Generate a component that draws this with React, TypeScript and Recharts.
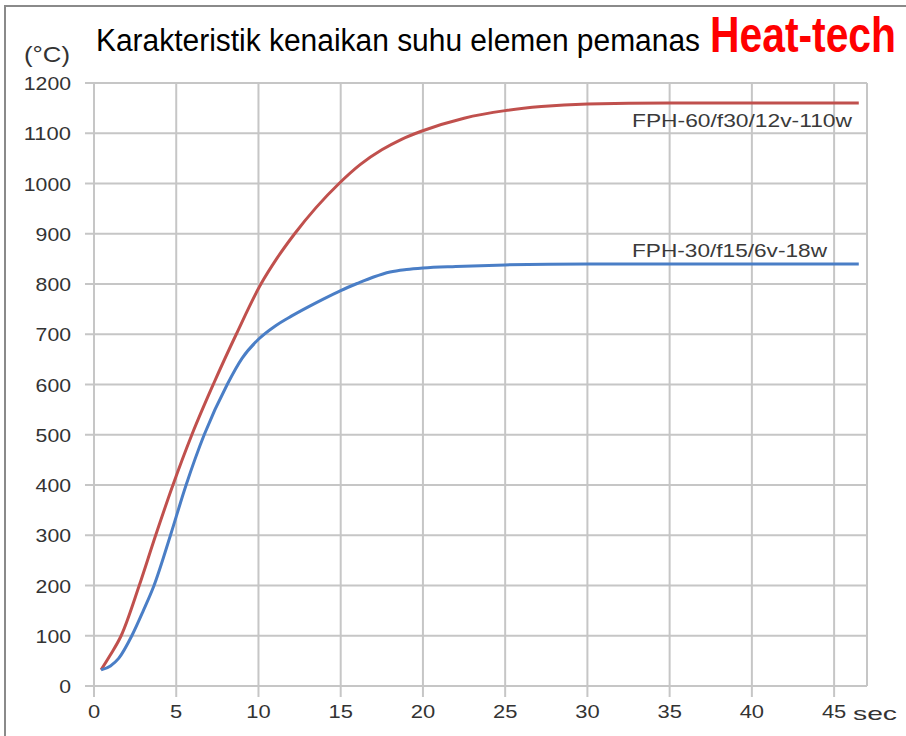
import React from "react";
import { LineChart, Line, XAxis, YAxis, CartesianGrid } from "recharts";

// FPH-60/f30/12v-110w (red)
const redTime = [0.43, 1.0, 1.65, 2.75, 3.75, 4.8, 5.95, 7.25, 8.65, 10.15, 11.1, 12.2, 13.5, 14.9, 16.2, 17.5, 18.7, 19.9, 22.5, 25, 27.2, 30, 35, 46.5];
const redTemp = [32, 62, 100, 200, 300, 400, 500, 600, 700, 800, 850, 900, 952, 1000, 1038, 1067, 1088, 1104, 1130, 1145, 1153, 1158, 1160, 1160];

// FPH-30/f15/6v-18w (blue)
const blueTime = [0.43, 1.0, 1.5, 2.3, 3.0, 3.65, 4.65, 5.6, 6.7, 8.1, 9.0, 10.0, 11.0, 12.0, 13.0, 14.0, 15.0, 16.0, 17.0, 18.0, 19.0, 20, 22, 25, 30, 46.5];
const blueTemp = [32, 40, 55, 100, 150, 200, 300, 400, 500, 600, 652, 690, 716, 736, 754, 771, 787, 801, 814, 824, 829, 832, 835, 838, 840, 840];

const xTicks = [0, 5, 10, 15, 20, 25, 30, 35, 40, 45];
const yTicks = [0, 100, 200, 300, 400, 500, 600, 700, 800, 900, 1000, 1100, 1200];

const title = "Karakteristik kenaikan suhu elemen pemanas";
const brand = "Heat-tech";
const unitLabel = "(°C)";
const xUnit = "sec";
const redName = "FPH-60/f30/12v-110w";
const blueName = "FPH-30/f15/6v-18w";

const redData = redTime.map((t, i) => ({ t, v: redTemp[i] }));
const blueData = blueTime.map((t, i) => ({ t, v: blueTemp[i] }));

const FONT = "'Liberation Sans', Arial, sans-serif";
const GRID = "#c6c6c6";

const YTick = (props: any) => {
  const { x, y, payload } = props;
  const s = String(payload.value);
  return (
    <text x={x} y={y} dy={7} textAnchor="end" fill="#333" fontSize={19} fontFamily={FONT}
      textLength={s.length * 11.8} lengthAdjust="spacingAndGlyphs">{s}</text>
  );
};

const XTick = (props: any) => {
  const { x, y, payload } = props;
  const s = String(payload.value);
  return (
    <text x={x} y={y} dy={21} textAnchor="middle" fill="#333" fontSize={19} fontFamily={FONT}
      textLength={s.length * 12.2} lengthAdjust="spacingAndGlyphs">{s}</text>
  );
};

export default function App() {
  return (
    <div style={{ position: "absolute", left: 0, top: 0, width: 906, height: 736, background: "#fff", overflow: "hidden" }}>
      <LineChart width={906} height={736} margin={{ top: 83, right: 39, bottom: 0, left: 0 }}>
        <CartesianGrid stroke={GRID} strokeWidth={2} />
        <XAxis type="number" dataKey="t" domain={[0, 47]} ticks={xTicks} allowDataOverflow
          axisLine={false} tickLine={{ stroke: GRID, strokeWidth: 2 }} tickSize={11} tickMargin={0}
          height={50} tick={<XTick />} interval={0} />
        <YAxis type="number" domain={[0, 1200]} ticks={yTicks} width={94}
          axisLine={false} tickLine={{ stroke: GRID, strokeWidth: 2 }} tickSize={9} tickMargin={14}
          tick={<YTick />} interval={0} />
        <Line data={redData} dataKey="v" type="monotone" stroke="#c0504d" strokeWidth={3} dot={false} isAnimationActive={false} />
        <Line data={blueData} dataKey="v" type="monotone" stroke="#4a7ec6" strokeWidth={3} dot={false} isAnimationActive={false} />
      </LineChart>
      <svg width={906} height={736} style={{ position: "absolute", left: 0, top: 0, pointerEvents: "none" }}>
        <rect x={5} y={6} width={920} height={760} fill="none" stroke="#8a8a8a" strokeWidth={2} />
        <text x={96} y={51} fontSize={31} fontFamily={FONT} fill="#000" textLength={604} lengthAdjust="spacingAndGlyphs">{title}</text>
        <g transform="translate(710,52) scale(1,1.17)">
          <text x={0} y={0} fontSize={42} fontWeight="bold" fontFamily={FONT} fill="#ff0000" textLength={186} lengthAdjust="spacingAndGlyphs">{brand}</text>
        </g>
        <text x={24} y={62} fontSize={22} fontFamily={FONT} fill="#333" textLength={46} lengthAdjust="spacingAndGlyphs">{unitLabel}</text>
        <text x={853} y={720} fontSize={19} fontFamily={FONT} fill="#333" textLength={44} lengthAdjust="spacingAndGlyphs">{xUnit}</text>
        <text x={632} y={127} fontSize={19} fontFamily={FONT} fill="#3a3a3a" textLength={220} lengthAdjust="spacingAndGlyphs">{redName}</text>
        <text x={632} y={257} fontSize={19} fontFamily={FONT} fill="#3a3a3a" textLength={195} lengthAdjust="spacingAndGlyphs">{blueName}</text>
      </svg>
    </div>
  );
}
